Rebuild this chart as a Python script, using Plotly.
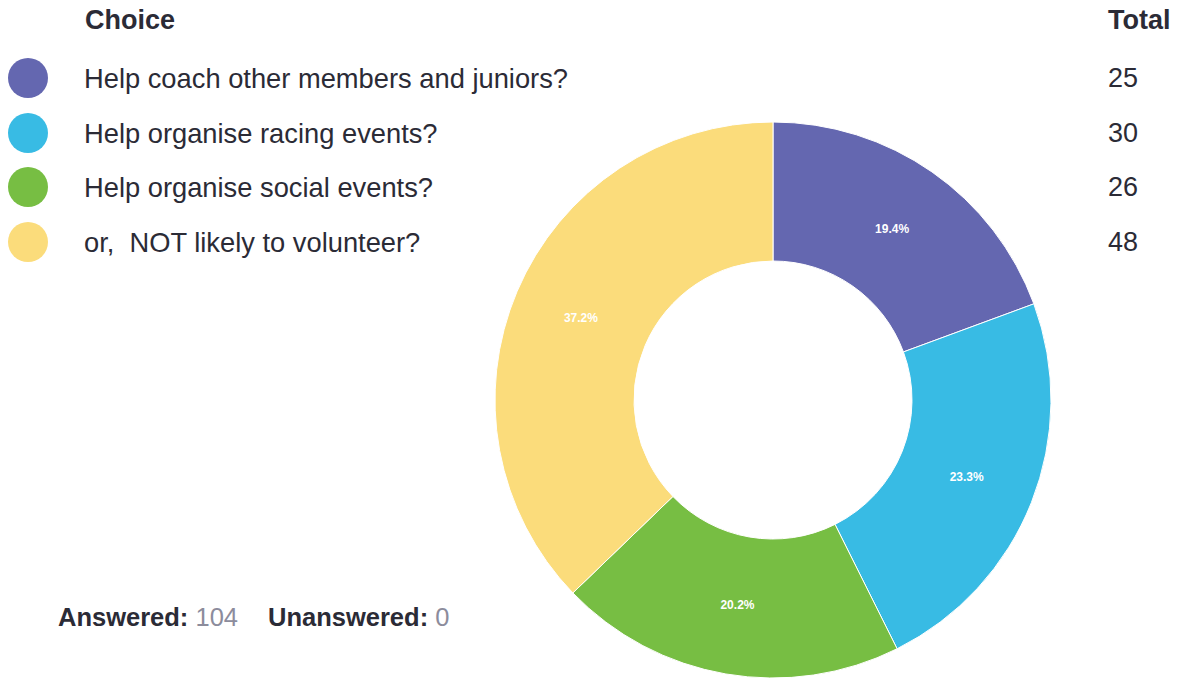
import plotly.graph_objects as go

choices = ["Help coach other members and juniors?",
           "Help organise racing events?",
           "Help organise social events?",
           "or,  NOT likely to volunteer?"]
totals = [25, 30, 26, 48]
colors = ["#6467B0", "#38BBE4", "#77BE43", "#FBDC7B"]
answered = 104
unanswered = 0

W, H = 1180, 680
row_y = [78, 133, 187, 242]
dark = "#2b2b36"
grey = "#8c8c9c"
font = "Liberation Sans, Arial, sans-serif"

fig = go.Figure()

cx, cy, r = 773, 400, 278
fig.add_trace(go.Pie(
    values=totals, labels=choices, marker=dict(colors=colors, line=dict(color="white", width=1)),
    hole=0.5, sort=False, direction="clockwise", rotation=0,
    texttemplate="<b>%{percent:.1%}</b>", textposition="inside",
    insidetextorientation="horizontal",
    textfont=dict(color="white", size=12, family=font),
    domain=dict(x=[(cx - r) / W, (cx + r) / W], y=[(H - (cy + r)) / H, (H - (cy - r)) / H]),
    hoverinfo="skip", showlegend=False,
))

fig.add_trace(go.Scatter(
    x=[28] * len(choices), y=row_y, mode="markers",
    marker=dict(size=40, color=colors, line=dict(width=0)),
    hoverinfo="skip", showlegend=False,
))

fs = 27
ann = []
ann.append(dict(x=83, y=20, text="<b>Choice</b>", xanchor="left", yanchor="middle",
                font=dict(size=fs, color=dark, family=font)))
ann.append(dict(x=1173, y=20, text="<b>Total</b>", xanchor="right", yanchor="middle",
                font=dict(size=fs, color=dark, family=font)))
for c, t, y in zip(choices, totals, row_y):
    ann.append(dict(x=82, y=y, text=c, xanchor="left", yanchor="middle",
                    font=dict(size=27.3, color=dark, family=font)))
    ann.append(dict(x=1106, y=y, text=str(t), xanchor="left", yanchor="middle",
                    font=dict(size=fs, color=dark, family=font)))
ann.append(dict(x=56, y=617, xanchor="left", yanchor="middle",
                text=f"<b>Answered:</b> <span style='color:{grey}'>{answered}</span>",
                font=dict(size=25.5, color=dark, family=font)))
ann.append(dict(x=266, y=617, xanchor="left", yanchor="middle",
                text=f"<b>Unanswered:</b> <span style='color:{grey}'>{unanswered}</span>",
                font=dict(size=25.5, color=dark, family=font)))
for a in ann:
    a.update(xref="x", yref="y", showarrow=False)

fig.update_layout(
    width=W, height=H, margin=dict(l=0, r=0, t=0, b=0),
    paper_bgcolor="white", plot_bgcolor="rgba(0,0,0,0)",
    xaxis=dict(range=[0, W], visible=False, domain=[0, 1], fixedrange=True),
    yaxis=dict(range=[H, 0], visible=False, domain=[0, 1], fixedrange=True),
    annotations=ann,
)

fig.write_html("out.html", config={"displayModeBar": False},
               post_script="document.body.style.margin='0';document.body.style.overflow='hidden';")
